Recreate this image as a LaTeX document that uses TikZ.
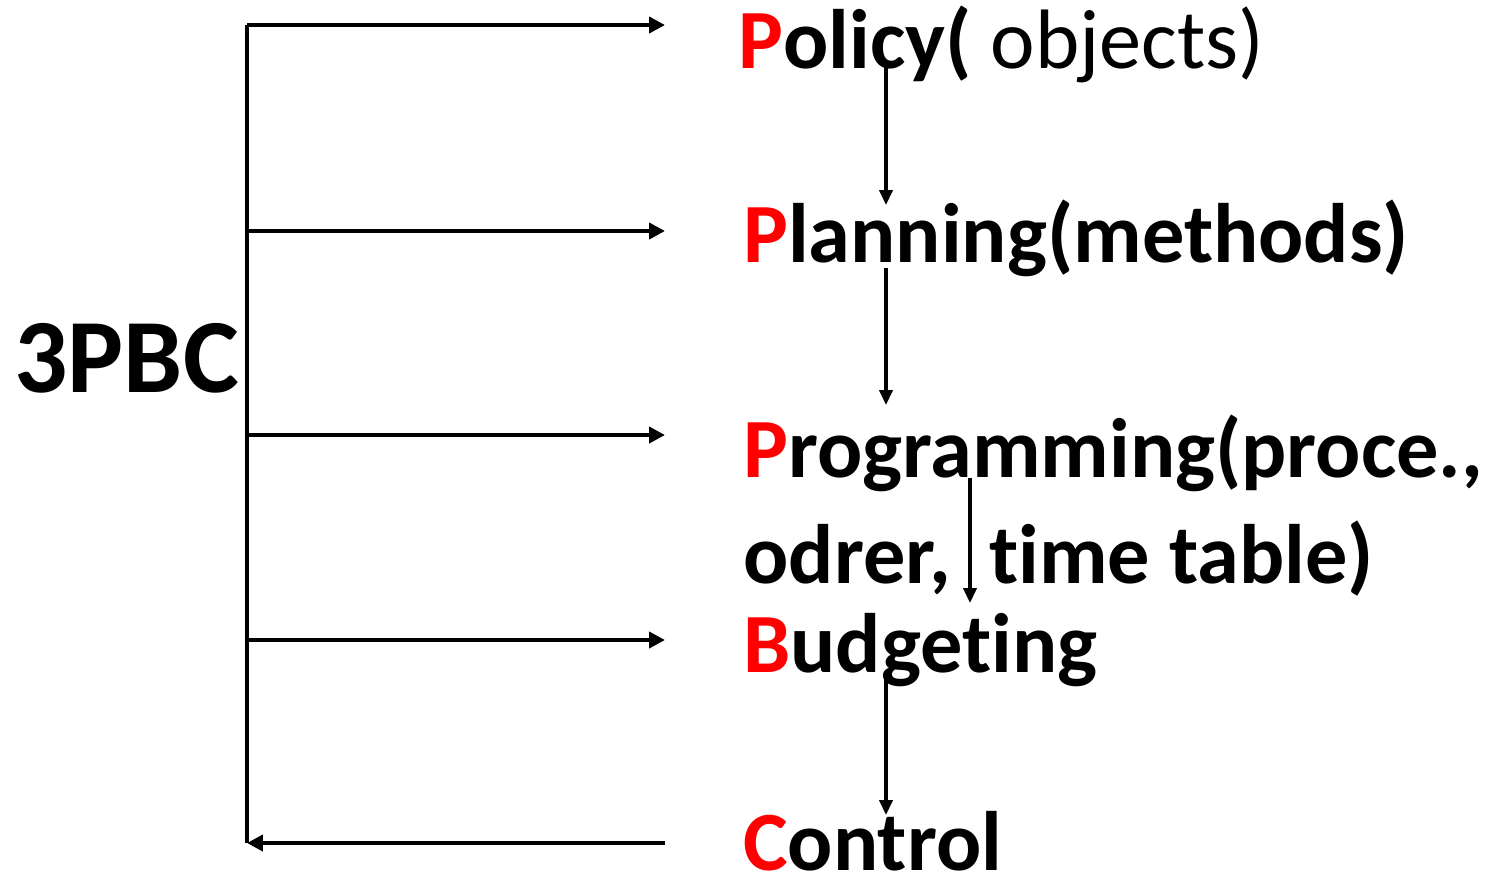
\documentclass[tikz,border=0pt]{standalone}
\usepackage{fontspec}
\setmainfont{Carlito}[Ligatures=NoCommon]
\usepackage{tikz}
\usetikzlibrary{arrows.meta}

\begin{document}
\begin{tikzpicture}[x=0.02cm,y=-0.02cm]
    \tikzstyle{t} = [anchor=base west, inner sep=0pt, font=\fontsize{48}{60}\selectfont\bfseries, align=left]
    \tikzstyle{thick arrow} = [line width=2.6pt,-{Triangle[length=9pt,width=9pt]}]
    \tikzstyle{thin arrow} = [line width=1.8pt,-{Triangle[length=8.5pt,width=7.5pt]}]
    \useasboundingbox (0,0) rectangle (1489,877);
        \node (pbc) [anchor=west, inner sep=0pt, font=\fontsize{60}{72}\selectfont\bfseries] at (14,358) {3PBC};
        \node (policy) [t] at (738,68) {\textcolor{red}{P}olicy(\mdseries{} objects)};
        \node (planning) [t] at (743,262) {\textcolor{red}{P}lanning(methods)};
        \node (programming) [t] at (743,583) {\textcolor{red}{P}rogramming(proce.,\\odrer,\ \ time table)};
        \node (budgeting) [t] at (743,672) {\textcolor{red}{B}udgeting};
        \node (control) [t] at (743,870) {\textcolor{red}{C}ontrol};
        % bracket
        \coordinate (top) at (247,25);
        \coordinate (p1) at (247,231);
        \coordinate (p2) at (247,435);
        \coordinate (b1) at (247,640);
        \coordinate (bot) at (247,843);
        \draw[line width=2.6pt] (top) -- (bot);
        \draw[thick arrow] (top) -- (665,25);
        \draw[thick arrow] (p1) -- (665,231);
        \draw[thick arrow] (p2) -- (665,435);
        \draw[thick arrow] (b1) -- (665,640);
        \draw[thick arrow] (665,843) -- (bot);
        % steps
        \draw[thin arrow] (886,60) -- (886,205);
        \draw[thin arrow] (886,268) -- (886,405);
        \draw[thin arrow] (970,478) -- (970,603);
        \draw[thin arrow] (886,680) -- (886,815);
    \end{tikzpicture}
\end{document}
